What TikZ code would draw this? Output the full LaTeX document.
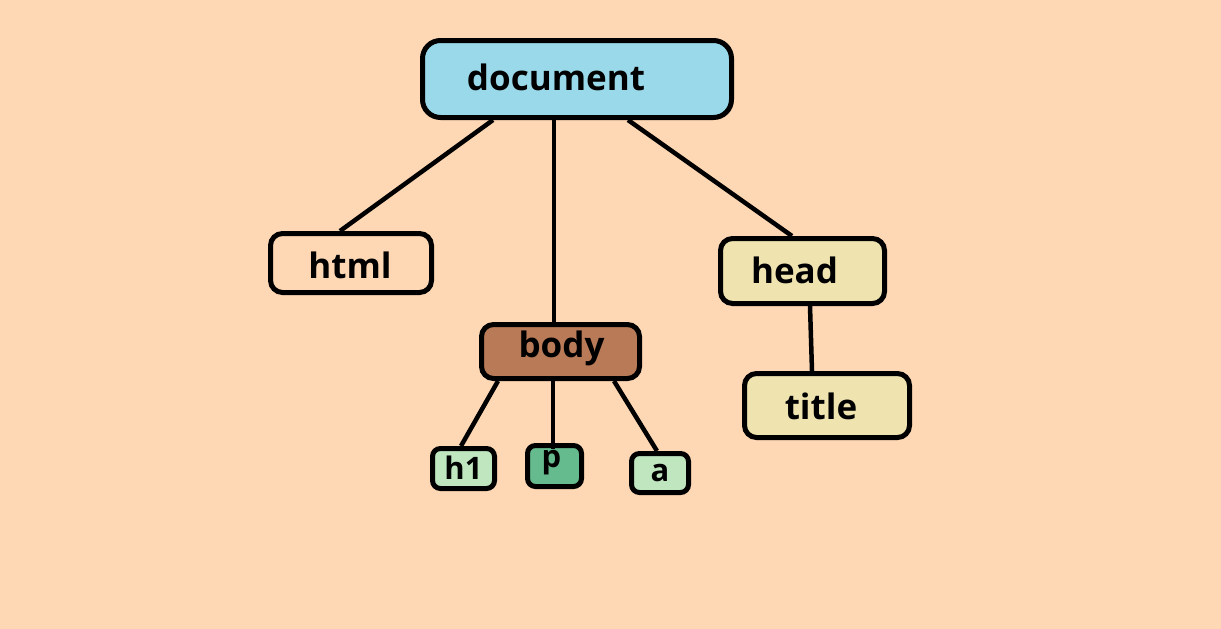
\documentclass[tikz,border=0pt]{standalone}
\usepackage{fontspec}
\setmainfont{Open Sans}
\definecolor{bgpeach}{HTML}{FED8B4}
\definecolor{docblue}{HTML}{99D9EA}
\definecolor{lyellow}{HTML}{EFE4B0}
\definecolor{brownish}{HTML}{B97A57}
\definecolor{lgreen}{HTML}{C0E6C0}
\definecolor{mgreen}{HTML}{66BB8E}
\begin{document}
\begin{tikzpicture}[x=1pt,y=-1pt,
  box/.style={draw=black, line width=5pt, rounded corners=12pt, inner sep=0pt},
  big/.style={font=\bfseries\fontsize{35}{38}\selectfont},
  small/.style={font=\bfseries\fontsize{31}{34}\selectfont},
  conn/.style={draw=black, line width=4.5pt}]
\fill[bgpeach] (0,0) rectangle (1221,629);
\useasboundingbox (0,0) rectangle (1221,629);
% boxes
\node[box, rounded corners=18pt, fill=docblue, minimum width=309pt, minimum height=77pt,
      label={[big, xshift=-21pt, yshift=2pt]center:document}] (document) at (577,79) {};
\node[box, fill=bgpeach, minimum width=161pt, minimum height=59pt,
      label={[big, xshift=-1pt, yshift=-2pt]center:html}] (html) at (351,263) {};
\node[box, fill=lyellow, minimum width=164pt, minimum height=65pt,
      label={[big, xshift=-8pt, yshift=1pt]center:head}] (head) at (802.5,271) {};
\node[box, fill=lyellow, minimum width=165pt, minimum height=64pt,
      label={[big, xshift=-6pt, yshift=-1pt]center:title}] (title) at (827,405.5) {};
\node[box, fill=brownish, minimum width=158pt, minimum height=54pt,
      label={[big, xshift=1pt, yshift=3pt]center:body}] (body) at (560.5,351.5) {};
\node[box, rounded corners=8pt, fill=lgreen, minimum width=62pt, minimum height=40pt,
      label={[small, xshift=0pt, yshift=1pt]center:h1}] (h1) at (463.5,468.5) {};
\node[box, rounded corners=8pt, fill=mgreen, minimum width=54pt, minimum height=41pt,
      label={[small, xshift=-3pt, yshift=3pt]center:p}] (p) at (554.5,466) {};
\node[box, rounded corners=8pt, fill=lgreen, minimum width=57pt, minimum height=39pt,
      label={[small, xshift=0pt, yshift=0pt]center:a}] (a) at (660,473) {};
% connectors
\draw[conn] ([xshift=-84pt]document.south) -- ([xshift=-11pt]html.north);
\draw[conn] ([xshift=-23pt]document.south) -- ([xshift=-6.5pt]body.north);
\draw[conn] ([xshift=51pt]document.south) -- ([xshift=-10.5pt]head.north);
\draw[conn] ([xshift=7.5pt]head.south) -- ([xshift=-15pt]title.north);
\draw[conn] ([xshift=-62.5pt]body.south) -- ([xshift=-2.5pt]h1.north);
\draw[conn] ([xshift=-7.5pt]body.south) -- ([xshift=-1.5pt,yshift=-6pt]p.north);
\draw[conn] ([xshift=53.5pt]body.south) -- ([xshift=-3pt]a.north);
\end{tikzpicture}
\end{document}
